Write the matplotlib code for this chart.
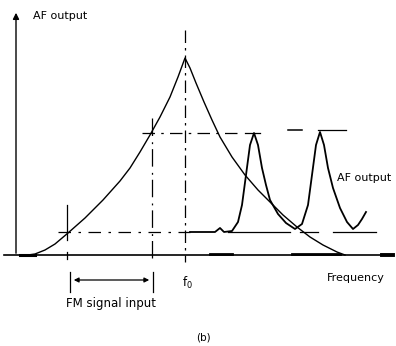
import matplotlib
matplotlib.use('Agg')
import matplotlib.pyplot as plt

plt.rcParams['font.family'] = ['DejaVu Sans']

# discriminator (wide) resonance curve (x, y in picture units)
disc_x = [28, 35, 45, 55, 68, 85, 103, 120, 130, 140, 150, 160, 170, 178, 185,
          190, 196, 204, 212, 220, 232, 245, 258, 270, 283, 297, 310, 323, 337, 345]
disc_y = [255, 254, 250, 244, 233, 218, 200, 181, 168, 152, 135, 117, 97, 77, 58,
          68, 83, 102, 120, 137, 157, 175, 190, 202, 215, 227, 237, 245, 252, 255]

# AF output (narrow peaks)
af_x = [190, 215, 220, 224, 232, 238, 242, 246, 250, 254, 258, 262, 266, 270, 278,
        286, 295, 302, 308, 312, 316, 320, 324, 328, 333, 340, 347, 353, 358, 362, 366]
af_y = [232, 232, 228, 232, 231, 222, 205, 175, 145, 133, 145, 168, 185, 200, 214,
        223, 229, 224, 205, 175, 145, 132, 145, 168, 188, 208, 222, 229, 225, 219, 212]

f0 = 185
f_lo, f_hi = 67, 152
level_hi, level_lo = 133, 232

fig = plt.figure(figsize=(3.96, 3.46), dpi=100)
ax = fig.add_axes([0, 0, 1, 1])
ax.set_xlim(0, 396)
ax.set_ylim(346, 0)
ax.axis('off')

k = dict(color='black', lw=0.9)

# axes of the sketch
ax.annotate('', xy=(16, 10), xytext=(16, 256),
            arrowprops=dict(arrowstyle='-|>', color='black', lw=1.0, mutation_scale=9))
ax.plot([4, 393], [255, 255], color='black', lw=1.2)
ax.plot([20, 35], [255, 255], color='black', lw=2.2)
ax.plot([210, 232], [254, 254], color='black', lw=2.0)
ax.plot([292, 340], [254, 254], color='black', lw=2.0)
ax.plot([382, 393], [255, 255], color='black', lw=2.8)

# curves
ax.plot(disc_x, disc_y, color='black', lw=1.0)
ax.plot(af_x, af_y, color='black', lw=1.3)

# guide lines
ax.plot([f0, f0], [30, 262], color='black', lw=0.9, dashes=(10, 4, 2, 4))
ax.plot([f_hi, f_hi], [118, 262], color='black', lw=0.9, dashes=(14, 5, 1.5, 4))
ax.plot([f_lo, f_lo], [205, 240], **k)
ax.plot([f_lo, f_lo], [252, 259], **k)
ax.plot([142, 240], [level_hi, level_hi], color='black', lw=0.9, dashes=(10, 5, 2, 5))
ax.plot([245, 260], [level_hi, level_hi], **k)
ax.plot([288, 302], [130, 130], color='black', lw=1.1)
ax.plot([318, 346], [130, 130], **k)
ax.plot([58, 190], [level_lo, level_lo], color='black', lw=0.9, dashes=(10, 6, 2, 6))
ax.plot([228, 290], [level_lo, level_lo], **k)
ax.plot([300, 318], [level_lo, level_lo], **k)
ax.plot([333, 376], [level_lo, level_lo], **k)

# FM signal range arrow
ax.plot([f_lo + 3, f_lo + 3], [272, 292], **k)
ax.plot([f_hi + 1, f_hi + 1], [272, 292], **k)
ax.annotate('', xy=(f_lo + 4, 280), xytext=(f_hi, 280),
            arrowprops=dict(arrowstyle='<|-|>', color='black', lw=0.9, mutation_scale=7))

# text
ax.text(33, 16, 'AF output', fontsize=8, va='center', ha='left')
ax.text(337, 178, 'AF output', fontsize=8, va='center', ha='left', clip_on=True)
ax.text(327, 278, 'Frequency', fontsize=8, va='center', ha='left', clip_on=True)
ax.text(187, 283, 'f$_0$', fontsize=8.5, va='center', ha='center')
ax.text(111, 304, 'FM signal input', fontsize=8.5, va='center', ha='center')
ax.text(203, 337, '(b)', fontsize=7.5, va='center', ha='center')

fig.savefig('out.png', dpi=100)
